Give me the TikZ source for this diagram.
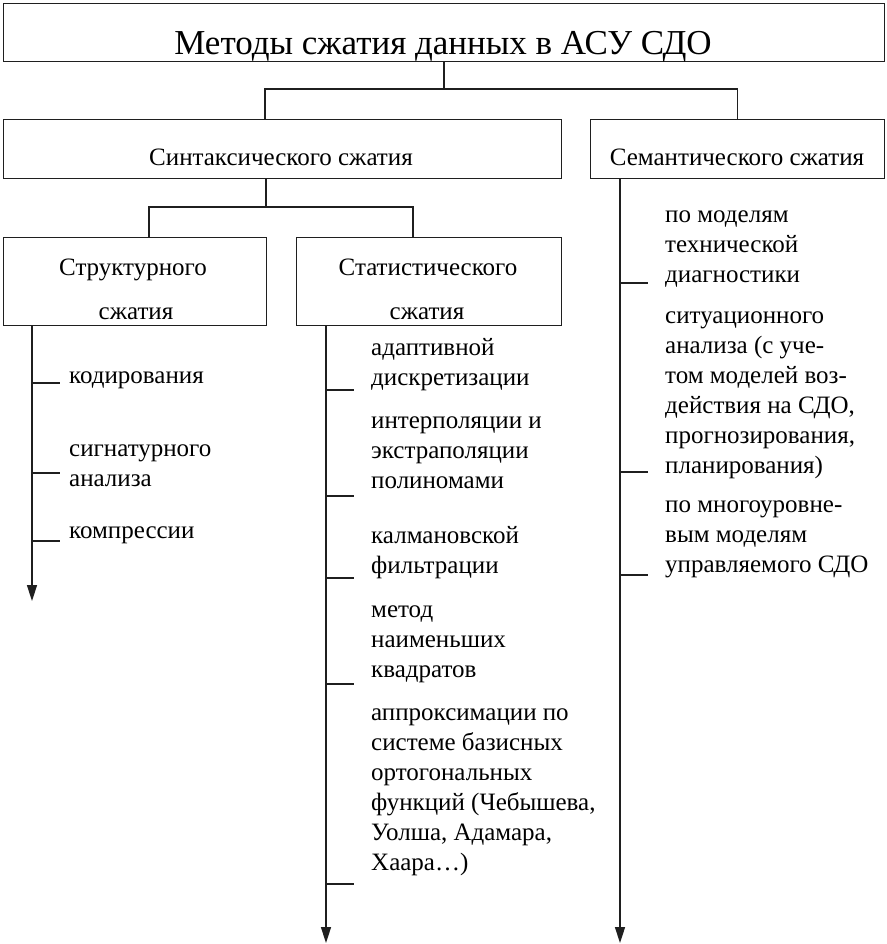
\documentclass[tikz,border=0pt]{standalone}
\usepackage{fontspec}
\setmainfont{Liberation Serif}
\usetikzlibrary{arrows.meta}
\begin{document}
\begin{tikzpicture}[x=1pt,y=-1pt,
  ln/.style={line width=1.5pt, draw=black!88},
  boxnode/.style={draw=black!88, line width=1.4pt, inner sep=0pt, anchor=north west},
  lbl/.style={font=\fontsize{25}{30}\selectfont, inner sep=0pt, anchor=base},
  item/.style={font=\fontsize{25}{30}\selectfont, inner sep=0pt, align=left, anchor=base west},
  arr/.style={ln, -{Triangle[length=16pt,width=10pt]}}]
\useasboundingbox[fill=white] (0,0) rectangle (886,944);

% boxes
\node[boxnode, minimum width=881pt, minimum height=58pt] (title) at (3,3) {};
\node[boxnode, minimum width=558pt, minimum height=59pt] (syn) at (3,119) {};
\node[boxnode, minimum width=294pt, minimum height=59pt] (sem) at (590,119) {};
\node[boxnode, minimum width=263pt, minimum height=88pt] (str) at (3,237) {};
\node[boxnode, minimum width=265pt, minimum height=88pt] (stat) at (296,237) {};

% box labels
\node[lbl, font=\fontsize{35}{40}\selectfont] (titlet) at (443,55) {Методы сжатия данных в АСУ СДО};
\node[lbl] (synt) at (281,165) {Синтаксического сжатия};
\node[lbl] (semt) at (737,165) {Семантического сжатия};
\node[lbl] (strt1) at (133,275) {Структурного};
\node[lbl] (strt2) at (136,319) {сжатия};
\node[lbl] (statt1) at (428,275) {Статистического};
\node[lbl] (statt2) at (427,319) {сжатия};

% tree connectors
\coordinate (j1) at (443,89);
\draw[ln] (title.south) -- (title.south |- j1);
\draw[ln] (syn.north -| 265,0) -- (265,89) -- (sem.north |- j1) -- (sem.north);
\coordinate (j2) at (266,207);
\draw[ln] (syn.south -| j2) -- (j2);
\draw[ln] (str.north -| 149,0) -- (149,207) -- (413,207) -- (stat.north -| 413,0);

% vertical arrows
\draw[arr] (str.south -| 32,0) -- (32,601);
\draw[arr] (stat.south -| 326,0) -- (326,943);
\draw[arr] (sem.south -| 620,0) -- (620,943);

% left column items (anchor = baseline of last line)
\node[item] (k1) at (69,383) {кодирования};
\node[item] (k2) at (69,486) {сигнатурного\\анализа};
\node[item] (k3) at (69,538) {компрессии};
\draw[ln] (32,383) -- (60,383);
\draw[ln] (32,473) -- (60,473);
\draw[ln] (32,541) -- (60,541);

% statistical items
\node[item] (s1) at (371,385) {адаптивной\\дискретизации};
\node[item] (s2) at (371,488) {интерполяции и\\экстраполяции\\полиномами};
\node[item] (s3) at (371,573) {калмановской\\фильтрации};
\node[item] (s4) at (371,677) {метод\\наименьших\\квадратов};
\node[item] (s5) at (371,870) {аппроксимации по\\системе базисных\\ортогональных\\функций (Чебышева,\\Уолша, Адамара,\\Хаара…)};
\draw[ln] (326,390) -- (354,390);
\draw[ln] (326,496) -- (354,496);
\draw[ln] (326,578) -- (354,578);
\draw[ln] (326,684) -- (354,684);
\draw[ln] (326,884) -- (354,884);

% semantic items
\node[item] (m1) at (665,282) {по моделям\\технической\\диагностики};
\node[item] (m2) at (665,473) {ситуационного\\анализа (с уче-\\том моделей воз-\\действия на СДО,\\прогнозирования,\\планирования)};
\node[item] (m3) at (665,572) {по многоуровне-\\вым моделям\\управляемого СДО};
\draw[ln] (620,283) -- (648,283);
\draw[ln] (620,472) -- (648,472);
\draw[ln] (620,575) -- (648,575);
\end{tikzpicture}
\end{document}
